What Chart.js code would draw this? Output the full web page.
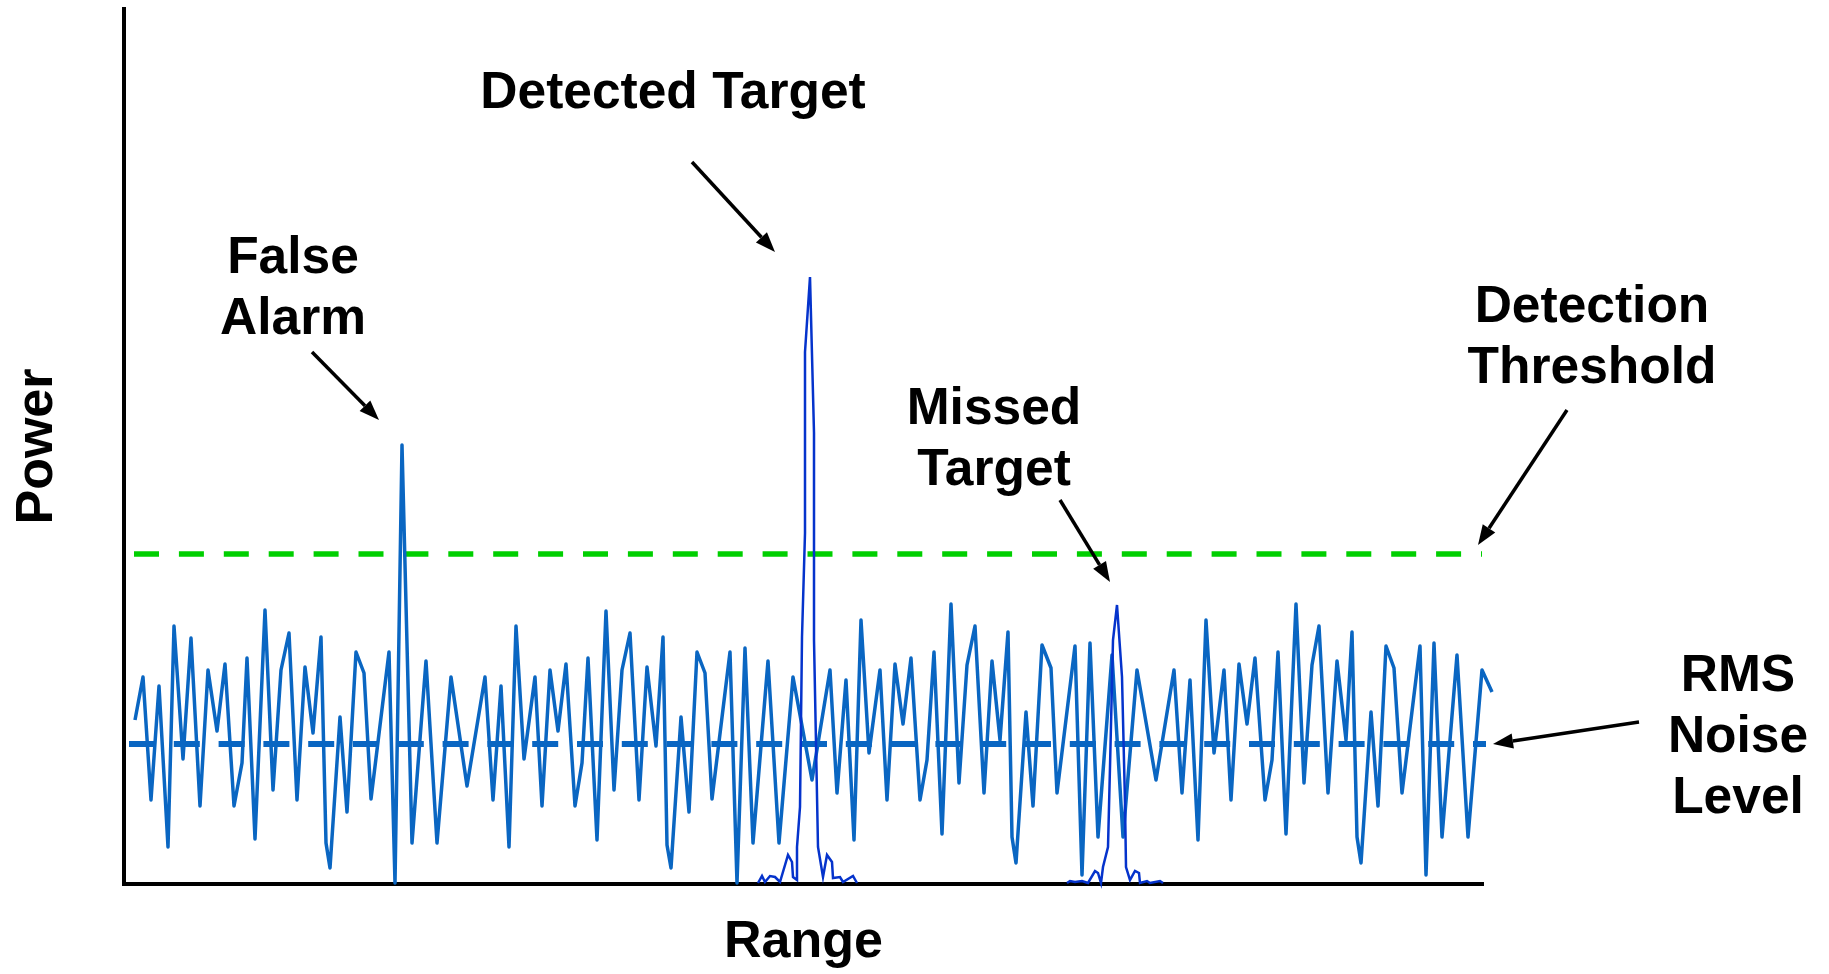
<!DOCTYPE html>
<html>
<head>
<meta charset="utf-8">
<title>Radar detection: power vs range</title>
<script src="https://cdn.jsdelivr.net/npm/chart.js@4.4.1/dist/chart.umd.min.js"></script>
<style>
  html, body { margin: 0; padding: 0; background: #fff; }
  canvas { display: block; }
</style>
</head>
<body>
<canvas id="radarChart" width="1829" height="974"></canvas>
<script>
// Received power vs range (arbitrary units)
const noiseRange = [1.1, 1.9, 2.7, 3.5, 4.4, 5.0, 5.9, 6.7, 7.6, 8.4,
    9.3, 10.1, 11.0, 11.8, 12.3, 13.1, 14.1, 14.9, 15.7, 16.5,
    17.3, 18.1, 18.9, 19.7, 20.2, 20.6, 21.6, 22.3, 23.2, 24.0,
    24.7, 26.5, 27.1, 27.8, 28.8, 30.2, 31.3, 32.7, 34.3, 36.1,
    36.9, 37.7, 38.5, 39.2, 40.0, 41.1, 41.8, 42.6, 43.4, 44.2,
    45.1, 45.8, 46.4, 47.3, 48.2, 49.0, 49.8, 50.6, 51.5, 52.3,
    53.2, 53.9, 54.3, 54.7, 55.7, 56.5, 57.3, 58.1, 58.8, 60.6,
    61.3, 62.1, 62.9, 64.4, 65.5, 66.9, 68.8, 70.6, 71.3, 72.2,
    73.0, 73.7, 74.5, 75.6, 76.3, 77.1, 77.9, 78.7, 79.6, 80.3,
    81.0, 81.8, 82.7, 83.5, 84.3, 85.1, 86.0, 86.8, 87.6, 88.4,
    88.8, 89.2, 90.2, 90.9, 91.8, 92.7, 93.3, 95.1, 95.8, 96.6,
    97.4, 98.8, 99.9, 101.3, 103.2, 105.0, 105.8, 106.6, 107.4, 108.2,
    109.0, 110.0, 110.7, 111.5, 112.3, 113.1, 114.1, 114.8, 115.4, 116.2,
    117.2, 118.0, 118.8, 119.5, 120.4, 121.3, 122.2, 122.8, 123.3, 123.7,
    124.7, 125.4, 126.2, 127.0, 127.8, 129.6, 130.2, 131.0, 131.8, 133.3,
    134.4, 135.8, 136.8];
const noisePower = [16.4, 20.7, 8.4, 19.8, 3.7, 25.8, 12.5, 24.6, 7.8, 21.4,
    15.3, 22.0, 7.8, 12.1, 22.6, 4.5, 27.4, 9.4, 21.4, 25.1,
    8.4, 21.7, 15.1, 24.7, 4.1, 1.6, 16.7, 7.2, 23.2, 21.1,
    8.5, 23.2, 0.1, 43.9, 4.1, 22.3, 4.1, 20.7, 9.8, 20.7,
    8.4, 19.8, 3.7, 25.8, 12.5, 20.7, 7.8, 21.4, 15.3, 22.0,
    7.8, 12.1, 22.6, 4.4, 27.3, 9.4, 21.4, 25.1, 8.4, 21.7,
    13.8, 24.7, 3.9, 1.6, 16.7, 7.2, 23.2, 21.1, 8.5, 23.2,
    0.1, 23.6, 4.1, 22.3, 4.1, 20.7, 10.4, 21.4, 9.1, 20.4,
    4.4, 26.4, 13.1, 21.4, 8.4, 22.0, 16.0, 22.6, 8.4, 12.4,
    23.2, 5.0, 28.0, 10.1, 21.9, 25.8, 9.1, 22.3, 14.4, 25.2,
    4.7, 2.1, 17.2, 7.8, 23.9, 21.6, 9.1, 23.8, 0.9, 24.1,
    4.7, 22.9, 4.7, 21.4, 10.4, 21.4, 9.1, 20.4, 4.4, 26.4,
    13.1, 21.4, 8.4, 22.0, 16.0, 22.6, 8.4, 12.4, 23.2, 5.0,
    28.0, 10.1, 21.9, 25.8, 9.1, 22.3, 14.4, 25.2, 4.7, 2.1,
    17.2, 7.8, 23.8, 21.6, 9.1, 23.8, 0.9, 24.1, 4.7, 22.9,
    4.7, 21.4, 19.2];

// strong target return
const detectedRange = [63.4, 63.8, 64.1, 64.6, 65.1, 65.6, 66.4, 66.8, 66.9, 67.3,
    67.3, 67.6, 67.8, 68.1, 68.1, 68.6, 69.0, 69.0, 69.4, 69.9,
    70.3, 70.8, 70.9, 71.6, 71.9, 72.9, 73.3];
const detectedPower = [0.1, 0.8, 0.2, 0.8, 0.7, 0.2, 2.9, 2.2, 0.7, 0.4,
    3.7, 7.7, 24.7, 35.1, 53.2, 60.7, 45.1, 24.4, 3.7, 0.7,
    2.9, 2.2, 0.6, 0.7, 0.2, 0.8, 0.1];

// weak target return, below threshold
const missedRange = [94.3, 94.6, 95.1, 95.8, 96.4, 97.1, 97.4, 97.7, 97.9, 98.4,
    98.6, 98.9, 99.3, 99.8, 100.1, 100.2, 100.6, 101.1, 101.5, 101.6,
    102.3, 102.6, 103.6, 103.9];
const missedPower = [0.1, 0.3, 0.2, 0.3, 0.1, 1.3, 1.1, 0.1, 1.7, 3.7,
    11.7, 24.4, 27.9, 20.7, 8.1, 1.7, 0.4, 1.3, 1.1, 0.1,
    0.3, 0.1, 0.3, 0.1];

const thresholdLevel = 33.0;
const thresholdSpan = [1.0, 135.8];
const rmsLevel = 14.0;
const rmsSpan = [0.5, 136.2];

const rangeMax = 135.9;
const powerMax = 87.5;

// callout labels with arrows, placed in data units
const callouts = [
    { lines: ['Detected Target'], at: [54.9, 77.6], from: [56.8, 72.2], to: [65.1, 63.2] },
    { lines: ['False', 'Alarm'], at: [16.9, 61.1], from: [18.8, 53.2], to: [25.5, 46.4] },
    { lines: ['Missed', 'Target'], at: [87.0, 46.0], from: [93.6, 38.4], to: [98.6, 30.2] },
    { lines: ['Detection', 'Threshold'], at: [146.8, 56.2], from: [144.3, 47.4], to: [135.4, 33.9] },
    { lines: ['RMS', 'Noise', 'Level'], at: [161.4, 19.3], from: [151.5, 16.2], to: [136.9, 14.0] }
];

const FONT_FAMILY = '"Liberation Sans", Arial, Helvetica, sans-serif';
const LINE_GAP = 61;

function toPoints(xs, ys) {
    return xs.map((x, i) => ({ x: x, y: ys[i] }));
}

function drawArrow(ctx, x1, y1, x2, y2) {
    const ang = Math.atan2(y2 - y1, x2 - x1);
    const head = 20, half = 7.5;
    const bx = x2 - head * Math.cos(ang);
    const by = y2 - head * Math.sin(ang);
    ctx.lineWidth = 3.5;
    ctx.beginPath();
    ctx.moveTo(x1, y1);
    ctx.lineTo(bx, by);
    ctx.stroke();
    ctx.beginPath();
    ctx.moveTo(x2, y2);
    ctx.lineTo(bx + half * Math.sin(ang), by - half * Math.cos(ang));
    ctx.lineTo(bx - half * Math.sin(ang), by + half * Math.cos(ang));
    ctx.closePath();
    ctx.fill();
}

const calloutPlugin = {
    id: 'callouts',
    afterDraw(chart) {
        const ctx = chart.ctx;
        const sx = chart.scales.x, sy = chart.scales.y;
        ctx.save();
        ctx.fillStyle = '#000';
        ctx.strokeStyle = '#000';
        ctx.font = 'bold 51.5px ' + FONT_FAMILY;
        ctx.textAlign = 'center';
        ctx.textBaseline = 'alphabetic';
        callouts.forEach(c => {
            const tx = sx.getPixelForValue(c.at[0]);
            const ty = sy.getPixelForValue(c.at[1]);
            c.lines.forEach((line, i) => ctx.fillText(line, tx, ty + i * LINE_GAP));
            drawArrow(ctx,
                sx.getPixelForValue(c.from[0]), sy.getPixelForValue(c.from[1]),
                sx.getPixelForValue(c.to[0]), sy.getPixelForValue(c.to[1]));
        });
        ctx.restore();
    }
};

const titleFont = { family: FONT_FAMILY, size: 52, weight: 'bold' };

const ctx = document.getElementById('radarChart').getContext('2d');
const radarChart = new Chart(ctx, {
    type: 'line',
    data: {
        datasets: [
            {
                label: 'Detected Target',
                data: toPoints(detectedRange, detectedPower),
                borderColor: '#0533CC',
                borderWidth: 2.5,
                order: 1
            },
            {
                label: 'Missed Target',
                data: toPoints(missedRange, missedPower),
                borderColor: '#0533CC',
                borderWidth: 2.5,
                order: 1
            },
            {
                label: 'Noise',
                data: toPoints(noiseRange, noisePower),
                borderColor: '#0A66C2',
                borderWidth: 3.5,
                borderJoinStyle: 'round',
                order: 3
            },
            {
                label: 'Detection Threshold',
                data: toPoints(thresholdSpan, [thresholdLevel, thresholdLevel]),
                borderColor: '#00CF00',
                borderWidth: 5.5,
                borderDash: [25, 19.9],
                order: 4
            },
            {
                label: 'RMS Noise Level',
                data: toPoints(rmsSpan, [rmsLevel, rmsLevel]),
                borderColor: '#0A66C2',
                borderWidth: 6,
                borderDash: [26, 18.8],
                order: 5
            }
        ]
    },
    options: {
        responsive: false,
        animation: false,
        events: [],
        clip: false,
        layout: { padding: { left: 0, top: 9, right: 346, bottom: 0 } },
        elements: {
            point: { radius: 0 },
            line: { tension: 0, fill: false }
        },
        datasets: { line: { clip: false } },
        plugins: {
            legend: { display: false },
            tooltip: { enabled: false }
        },
        scales: {
            x: {
                type: 'linear',
                min: 0,
                max: rangeMax,
                ticks: { display: false },
                grid: { display: true, drawOnChartArea: false, drawTicks: false },
                border: { display: true, color: '#000', width: 4 },
                title: { display: true, text: 'Range', color: '#000', font: titleFont, padding: { top: 27.6, bottom: 0 } }
            },
            y: {
                type: 'linear',
                min: 0,
                max: powerMax,
                ticks: { display: false },
                grid: { display: true, drawOnChartArea: false, drawTicks: false },
                border: { display: true, color: '#000', width: 4 },
                title: { display: true, text: 'Power', color: '#000', font: titleFont, padding: { top: 6.3, bottom: 55.3 } }
            }
        }
    },
    plugins: [calloutPlugin]
});
</script>
</body>
</html>
